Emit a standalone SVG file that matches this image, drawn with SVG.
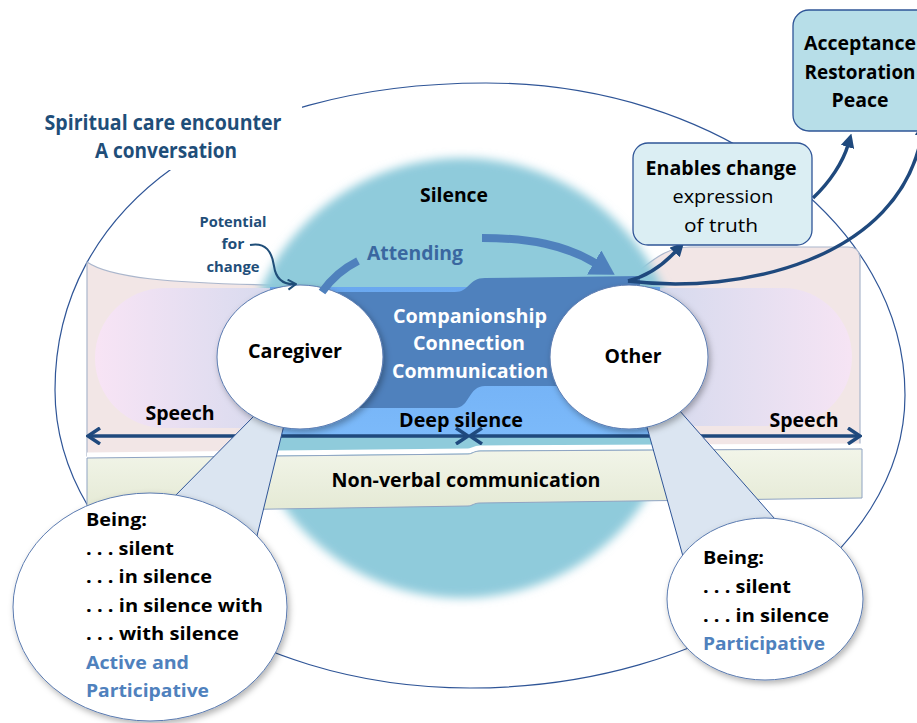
<svg xmlns="http://www.w3.org/2000/svg" width="917" height="723" viewBox="0 0 917 723">
<defs>
<style>
text{font-family:"Open Sans","Liberation Sans",sans-serif;font-weight:700;fill:#000;}
.nav{fill:#1f4e79}
.blu{fill:#4f81bd}
.wht{fill:#fff}
.reg{font-weight:400}
.circ{fill:#fff;stroke:#5b7bb0;stroke-width:1;filter:url(#sh)}
.wedge{fill:#dbe5f1;stroke:#2f5597;stroke-width:1}
.box{stroke:#2f5597;stroke-width:1.3}
.conn{fill:none;stroke:#1f497d;stroke-width:3.5}
.att{fill:none;stroke:#4f81bd;stroke-width:8}
</style>
<filter id="blur" x="-20%" y="-20%" width="140%" height="140%"><feGaussianBlur stdDeviation="5"/></filter>
<filter id="sh" x="-20%" y="-20%" width="150%" height="150%"><feDropShadow dx="2" dy="3" stdDeviation="3" flood-color="#000" flood-opacity="0.3"/></filter>
<linearGradient id="pillL" x1="0" y1="0" x2="1" y2="0"><stop offset="0" stop-color="#f8e4f5"/><stop offset="1" stop-color="#ccd7ec"/></linearGradient>
<linearGradient id="pillR" x1="0" y1="0" x2="1" y2="0"><stop offset="0" stop-color="#ccd7ec"/><stop offset="1" stop-color="#f6e4f4"/></linearGradient>
<linearGradient id="lb" x1="0" y1="0" x2="0" y2="1"><stop offset="0" stop-color="#6aa8f0"/><stop offset="1" stop-color="#7cbafa"/></linearGradient>
<linearGradient id="nv" x1="0" y1="0" x2="0" y2="1"><stop offset="0" stop-color="#f2f5e9"/><stop offset="1" stop-color="#e4e9d4"/></linearGradient>
<marker id="chev" viewBox="0 0 16 18" markerWidth="16" markerHeight="18" refX="14" refY="9" orient="auto-start-reverse" markerUnits="userSpaceOnUse"><path d="M2,1 L14,9 L2,17" fill="none" stroke="#1f497d" stroke-width="3.5"/></marker>
<marker id="chevS" viewBox="0 0 10 12" markerWidth="10" markerHeight="12" refX="9" refY="6" orient="auto" markerUnits="userSpaceOnUse"><path d="M1,1 L9,6 L1,11" fill="none" stroke="#1f4e79" stroke-width="2"/></marker>
<marker id="tri" viewBox="0 0 14 14" markerWidth="14" markerHeight="14" refX="2" refY="7" orient="auto" markerUnits="userSpaceOnUse"><path d="M0,0 L14,7 L0,14 Z" fill="#1f497d"/></marker>
<marker id="big" viewBox="0 0 24 28" markerWidth="24" markerHeight="28" refX="1" refY="14" orient="auto" markerUnits="userSpaceOnUse"><path d="M0,0 L24,14 L0,28 Z" fill="#4f81bd"/></marker>
</defs>

<g id="encounter">
<path d="M55,390 C55,206 227,83 486,83 C716,83 905,223 905,395 C905,556 709,688 470,688 C242,688 55,554 55,390 Z" fill="none" stroke="#2f5597" stroke-width="1.2"/>
<rect x="30" y="98" width="272" height="72" fill="#fff"/>
<text class="nav" x="163" y="130" text-anchor="middle" font-size="21" textLength="237" lengthAdjust="spacingAndGlyphs">Spiritual care encounter</text>
<text class="nav" x="166" y="158" text-anchor="middle" font-size="21" textLength="142" lengthAdjust="spacingAndGlyphs">A conversation</text>
</g>

<g id="speech-band">
<path d="M87,262 C110,278 170,283 270,285 L600,285 C640,285 650,247 690,247 L848,247 Q860,247 860,259 L860,449 L87,456 Z" fill="#f2e6e6" stroke="#aab6cc" stroke-width="1.2"/>
</g>

<g id="silence">
<circle cx="462" cy="378" r="220" fill="#8fcbdb" filter="url(#blur)"/>
<text x="454" y="202" text-anchor="middle" font-size="20" textLength="68" lengthAdjust="spacingAndGlyphs">Silence</text>
</g>

<g id="speech-zones">
<rect x="95" y="288" width="240" height="140" rx="70" fill="url(#pillL)"/>
<rect x="600" y="288" width="252" height="138" rx="69" fill="url(#pillR)"/>
</g>

<g id="deep-silence">
<rect x="270" y="287" width="390" height="150" fill="url(#lb)"/>
</g>

<g id="companionship">
<path d="M330,292 L455,292 C470,292 468,278 485,278 L640,276 L640,386 L485,386 C468,386 470,408 455,408 L330,408 Z" fill="#4f81bd"/>
<text class="wht" x="470" y="323" text-anchor="middle" font-size="20" textLength="154" lengthAdjust="spacingAndGlyphs">Companionship</text>
<text class="wht" x="469" y="350" text-anchor="middle" font-size="20" textLength="112" lengthAdjust="spacingAndGlyphs">Connection</text>
<text class="wht" x="470" y="378" text-anchor="middle" font-size="20" textLength="156" lengthAdjust="spacingAndGlyphs">Communication</text>
</g>

<g id="non-verbal">
<path d="M87,455 L468,451 C472,451 474,448 480,448 L862,446" fill="none" stroke="#fff" stroke-width="5"/>
<path d="M87,458 L468,454 C472,454 474,451 480,451 L862,449 L862,498 L480,503 C474,503 472,506 468,506 L87,512 Z" fill="url(#nv)" stroke="#8ea3c2" stroke-width="1"/>
<text x="466" y="487" text-anchor="middle" font-size="20" textLength="269" lengthAdjust="spacingAndGlyphs">Non-verbal communication</text>
</g>

<g id="connectors">
<path class="conn" d="M88,436 L468,436" marker-start="url(#chev)" marker-end="url(#chev)"/>
<path class="conn" d="M470,436 L860,436" marker-start="url(#chev)" marker-end="url(#chev)"/>
</g>

<g id="labels-line">
<text x="180" y="420" text-anchor="middle" font-size="19" textLength="69" lengthAdjust="spacingAndGlyphs">Speech</text>
<text x="804" y="427" text-anchor="middle" font-size="19" textLength="69" lengthAdjust="spacingAndGlyphs">Speech</text>
<text x="461" y="427" text-anchor="middle" font-size="19" textLength="124" lengthAdjust="spacingAndGlyphs">Deep silence</text>
</g>

<g id="callouts">
<polygon class="wedge" points="255,415 284,425 256,540 171,500"/>
<polygon class="wedge" points="645,420 679,410 789,535 684,560"/>
</g>

<g id="caregiver">
<ellipse class="circ" cx="300" cy="357" rx="83" ry="72"/>
<text x="295" y="358" text-anchor="middle" font-size="20" textLength="94" lengthAdjust="spacingAndGlyphs">Caregiver</text>
</g>

<g id="other">
<ellipse class="circ" cx="629" cy="357" rx="79" ry="72"/>
<text x="633" y="363" text-anchor="middle" font-size="20" textLength="57" lengthAdjust="spacingAndGlyphs">Other</text>
</g>

<g id="caregiver-being">
<ellipse class="circ" cx="150" cy="607" rx="137" ry="114"/>
<text x="86" y="526" font-size="18" textLength="61" lengthAdjust="spacingAndGlyphs">Being:</text>
<text x="86" y="555" font-size="18" textLength="88" lengthAdjust="spacingAndGlyphs">. . . silent</text>
<text x="86" y="583" font-size="18" textLength="126" lengthAdjust="spacingAndGlyphs">. . . in silence</text>
<text x="86" y="612" font-size="18" textLength="177" lengthAdjust="spacingAndGlyphs">. . . in silence with</text>
<text x="86" y="640" font-size="18" textLength="153" lengthAdjust="spacingAndGlyphs">. . . with silence</text>
<text class="blu" x="86" y="669" font-size="18" textLength="103" lengthAdjust="spacingAndGlyphs">Active and</text>
<text class="blu" x="86" y="697" font-size="18" textLength="123" lengthAdjust="spacingAndGlyphs">Participative</text>
</g>

<g id="other-being">
<ellipse class="circ" cx="765" cy="599" rx="98" ry="81"/>
<text x="703" y="564" font-size="18" textLength="61" lengthAdjust="spacingAndGlyphs">Being:</text>
<text x="703" y="593" font-size="18" textLength="88" lengthAdjust="spacingAndGlyphs">. . . silent</text>
<text x="703" y="622" font-size="18" textLength="126" lengthAdjust="spacingAndGlyphs">. . . in silence</text>
<text class="blu" x="703" y="650" font-size="18" textLength="122" lengthAdjust="spacingAndGlyphs">Participative</text>
</g>

<g id="attending">
<path class="att" d="M322,292 Q336,272 358,261"/>
<path class="att" d="M482,238 C530,238 565,245 595,263" marker-end="url(#big)"/>
<text x="415" y="260" text-anchor="middle" font-size="20" style="fill:#3a67a0" textLength="96" lengthAdjust="spacingAndGlyphs">Attending</text>
</g>

<g id="potential">
<text class="nav" x="233" y="227" text-anchor="middle" font-size="15" textLength="67" lengthAdjust="spacingAndGlyphs">Potential</text>
<text class="nav" x="233" y="249" text-anchor="middle" font-size="15" textLength="23" lengthAdjust="spacingAndGlyphs">for</text>
<text class="nav" x="233" y="272" text-anchor="middle" font-size="15" textLength="53" lengthAdjust="spacingAndGlyphs">change</text>
<path d="M250,245 C266,242 272,252 274,266 C276,280 284,285 296,284" fill="none" stroke="#1f4e79" stroke-width="2" marker-end="url(#chevS)"/>
</g>

<g id="change-connectors">
<path class="conn" d="M628,281 C648,276 664,264 676,251" marker-end="url(#tri)"/>
<path class="conn" d="M813,198 C830,182 843,162 848,145" marker-end="url(#tri)"/>
<path class="conn" d="M628,281 C740,295 900,260 922,134" marker-end="url(#tri)"/>
</g>

<g id="enables-change">
<rect class="box" x="633" y="143" width="179" height="102" rx="15" fill="#dbeef3"/>
<text x="721" y="175" text-anchor="middle" font-size="19" textLength="151" lengthAdjust="spacingAndGlyphs">Enables change</text>
<text class="reg" x="723" y="203" text-anchor="middle" font-size="19" textLength="101" lengthAdjust="spacingAndGlyphs">expression</text>
<text class="reg" x="721" y="232" text-anchor="middle" font-size="19" textLength="74" lengthAdjust="spacingAndGlyphs">of truth</text>
</g>

<g id="acceptance">
<rect class="box" x="793" y="10" width="140" height="121" rx="16" fill="#b7dee8"/>
<text x="860" y="50" text-anchor="middle" font-size="19" textLength="112" lengthAdjust="spacingAndGlyphs">Acceptance</text>
<text x="860" y="79" text-anchor="middle" font-size="19" textLength="111" lengthAdjust="spacingAndGlyphs">Restoration</text>
<text x="860" y="107" text-anchor="middle" font-size="19" textLength="57" lengthAdjust="spacingAndGlyphs">Peace</text>
</g>
</svg>
